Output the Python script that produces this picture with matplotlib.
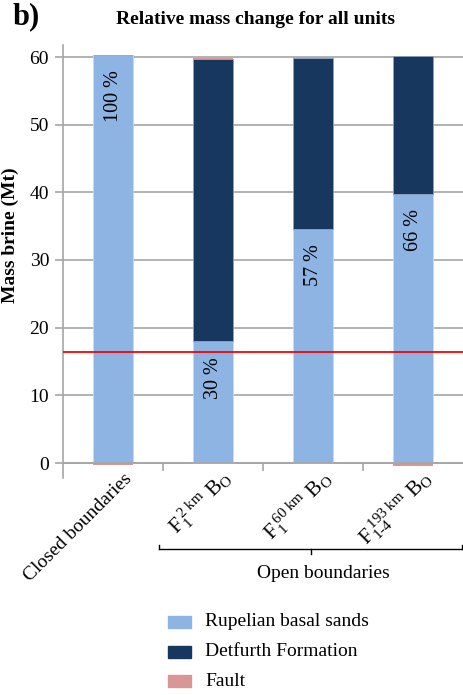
import matplotlib
matplotlib.use("Agg")
import matplotlib.pyplot as plt
import matplotlib.transforms as mtransforms
import numpy as np

plt.rcParams['font.family'] = ['Liberation Serif', 'DejaVu Serif']
plt.rcParams['mathtext.fontset'] = 'custom'
plt.rcParams['mathtext.rm'] = 'Liberation Serif'
plt.rcParams['mathtext.it'] = 'Liberation Serif:italic'
plt.rcParams['mathtext.bf'] = 'Liberation Serif:bold'

categories = ['Closed boundaries',
              r'F$_1^{\ \mathrm{2\ km}}$ B$_\mathrm{O}$',
              r'F$_1^{\ \mathrm{60\ km}}$ B$_\mathrm{O}$',
              r'F$_{1\text{-}4}^{\ \mathrm{193\ km}}$ B$_\mathrm{O}$']
rupelian = [60.3, 18.0, 34.6, 39.8]
detfurth = [0.0, 41.7, 25.3, 20.4]
fault = [-0.3, 0.15, 0.15, -0.5]
pct_labels = ['100 %', '30 %', '57 %', '66 %']
threshold = 16.4

c_rup = '#8EB4E3'
c_det = '#17375E'
c_fault = '#D99694'
grid_c = '#a6a6a6'

W, H = 463, 695
def fx(px):
    return px / W
def fy(py):
    return 1 - py / H

fig = plt.figure(figsize=(W/100, H/100), dpi=100)
# pixel mapping: 0 -> y=463, 60 -> y=57
ppu = (463 - 57) / 60
ymin, ymax = -2.2, (463 - 45) / ppu
bottom_px = 463 + (-ymin) * ppu
ax = fig.add_axes([fx(63), fy(bottom_px), 400 / W, (bottom_px - 45) / H])

x = np.arange(len(rupelian))
w = 0.4
ax.bar(x, rupelian, w, color=c_rup, edgecolor='#c5d9f1', linewidth=0.6, zorder=3)
ax.bar(x, detfurth, w, bottom=rupelian, color=c_det, edgecolor='#8ea4bd', linewidth=0.6, zorder=3)
fb = [0 if f < 0 else r + d for f, r, d in zip(fault, rupelian, detfurth)]
ax.bar(x, fault, w, bottom=fb, color=c_fault, edgecolor='none', zorder=3)

for xi, r, lab in zip(x, rupelian, pct_labels):
    ax.text(xi, r - 2.3, lab, rotation=90, ha='center', va='top', fontsize=14.5, zorder=5)

ax.axhline(threshold, color='red', lw=1.3, zorder=6)

ax.set_xlim(-0.5, 3.5)
ax.set_ylim(ymin, ymax)
ax.set_yticks(range(0, 61, 10))
ax.yaxis.grid(True, color=grid_c, lw=1.2, zorder=0)
ax.set_axisbelow(True)
for s in ['top', 'right']:
    ax.spines[s].set_visible(False)
ax.spines['left'].set_color(grid_c)
ax.spines['left'].set_linewidth(1.2)
ax.spines['bottom'].set_color(grid_c)
ax.spines['bottom'].set_linewidth(1.2)
ax.spines['bottom'].set_position(('data', 0))
ax.spines['bottom'].set_zorder(4)
ax.tick_params(axis='y', length=6, color=grid_c, width=1.2, labelsize=14, pad=4)
ax.set_xticks(x)
ax.set_xticklabels(categories, rotation=45, ha='right', va='baseline', rotation_mode='anchor')
ax.tick_params(axis='x', which='major', length=0, pad=12)
ax.set_xticks([0.5, 1.5, 2.5], minor=True)
ax.tick_params(axis='x', which='minor', length=6, color=grid_c, width=1.2)
off = mtransforms.ScaledTranslation(20/100, 0, fig.dpi_scale_trans)
for i, lbl in enumerate(ax.get_xticklabels()):
    lbl.set_transform(lbl.get_transform() + off)
    lbl.set_fontsize(14 if i == 0 else 15.5)

ax.set_ylabel('Mass brine (Mt)', fontsize=14, fontweight='bold')
ax.yaxis.set_label_coords(-(63 - 19) / 400, (bottom_px - 235) / (bottom_px - 45))

fig.text(fx(13), fy(17), 'b)', fontsize=22, fontweight='bold', va='center', ha='left')
fig.text(fx(255), fy(19), 'Relative mass change for all units', fontsize=14,
         fontweight='bold', va='center', ha='center')

# bracket for open boundaries
lc = 'black'
fig.add_artist(plt.Line2D([fx(159), fx(462)], [fy(549), fy(549)], color=lc, lw=1))
fig.add_artist(plt.Line2D([fx(159), fx(159)], [fy(549), fy(545)], color=lc, lw=1))
fig.add_artist(plt.Line2D([fx(462), fx(462)], [fy(549), fy(545)], color=lc, lw=1))
fig.add_artist(plt.Line2D([fx(311), fx(311)], [fy(549), fy(554)], color=lc, lw=1))
fig.text(fx(323), fy(573), 'Open boundaries', fontsize=14, ha='center', va='center')

# legend
items = [('Rupelian basal sands', c_rup), ('Detfurth Formation', c_det), ('Fault', c_fault)]
for i, (name, col) in enumerate(items):
    yc = 622 + 29.5 * i
    fig.add_artist(plt.Rectangle((fx(168), fy(yc + 6)), 23 / W, 12 / H, color=col))
    fig.text(fx(205), fy(yc), name, fontsize=14, ha='left', va='center')

fig.savefig('out.png', dpi=100)
